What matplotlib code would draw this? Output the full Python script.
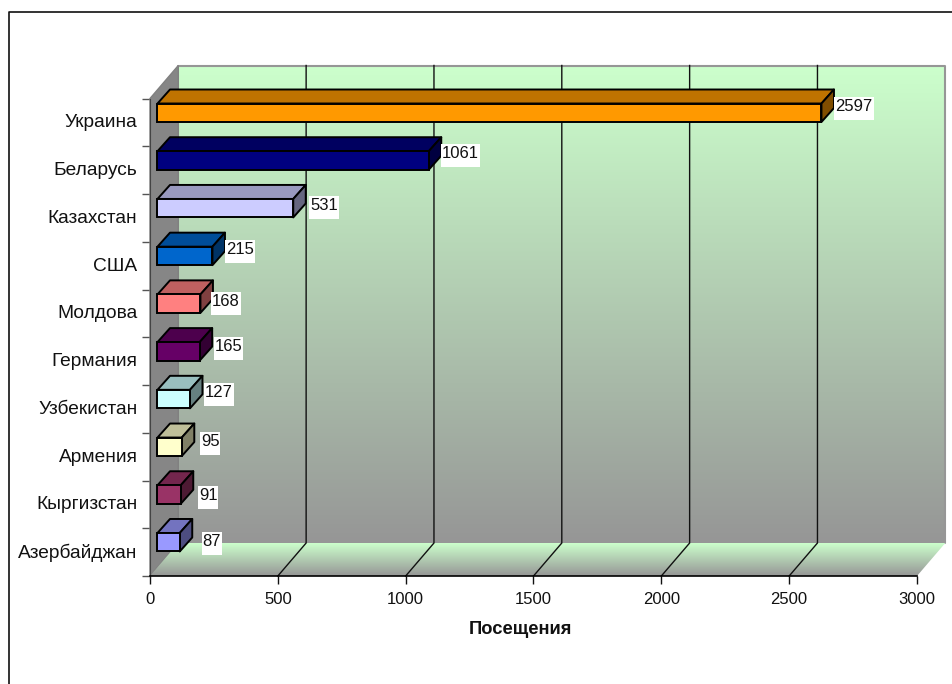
import matplotlib
matplotlib.use('Agg')
import matplotlib.pyplot as plt
import numpy as np
from matplotlib.colors import LinearSegmentedColormap, to_rgb
from matplotlib.lines import Line2D
from matplotlib.patches import Polygon, Rectangle
from matplotlib.transforms import IdentityTransform, ScaledTranslation

countries = ['Украина', 'Беларусь', 'Казахстан', 'США', 'Молдова',
             'Германия', 'Узбекистан', 'Армения', 'Кыргизстан', 'Азербайджан']
visits = [2597, 1061, 531, 215, 168, 165, 127, 95, 91, 87]
bar_colors = ['#FF9900', '#000080', '#CCCCFF', '#0066CC', '#FF8080',
              '#660066', '#CCFFFF', '#FFFFCC', '#993366', '#9999FF']
x_ticks = [0, 500, 1000, 1500, 2000, 2500, 3000]

# label nudges from the bar end, in pixels
label_dx = [14, 13, 17, 13.5, 11.5, 15, 15, 19, 18, 23]
label_dy = [6, 7, 3, 6, 2, 4.5, 7, 5, -1, 1]

W, H = 953, 684
plt.rcParams['font.family'] = ['Liberation Sans', 'DejaVu Sans']
fig = plt.figure(figsize=(W / 100, H / 100), dpi=100)

# front plane of the 3D box, pixel edges converted to figure fractions
left, right, top, bottom = 150, 917, 98.5, 576
ax = fig.add_axes([left / W, 1 - bottom / H, (right - left) / W, (bottom - top) / H])
ax.set_xlim(0, 3000)
ax.set_ylim(10, 0)

px_x = 3000 / (right - left)
px_y = 10 / (bottom - top)
depth_x = 28.3 * px_x
depth_y = 33 * px_y
back_x0, back_x1 = depth_x, 3000 + depth_x
back_y0, back_y1 = -depth_y, 10 - depth_y

green_gray = LinearSegmentedColormap.from_list('wall', ['#CCFFCC', '#969696'])
grad = np.linspace(0, 1, 256).reshape(-1, 1)

# back wall
ax.imshow(grad, cmap=green_gray, aspect='auto', extent=(back_x0, back_x1, back_y1, back_y0),
          zorder=1, clip_on=False)
ax.plot([back_x0, back_x0, back_x1, back_x1, back_x0], [back_y1, back_y0, back_y0, back_y1, back_y1],
        color='#969696', lw=1.5, zorder=1.5, clip_on=False)

# floor
floor = Polygon([(0, 10), (3000, 10), (back_x1, back_y1), (back_x0, back_y1)], closed=True,
                fc='none', ec='none', clip_on=False)
ax.add_patch(floor)
floor_img = ax.imshow(grad, cmap=green_gray, aspect='auto', extent=(0, back_x1, 10, back_y1),
                      zorder=1.7)
floor_img.set_clip_box(fig.bbox)
floor_img.set_clip_path(floor)
ax.set_xlim(0, 3000)
ax.set_ylim(10, 0)

# left wall
ax.add_patch(Polygon([(0, 0), (back_x0, back_y0), (back_x0, back_y1), (0, 10)], closed=True,
                     fc='#868686', ec='#808080', lw=1, zorder=1.6, clip_on=False))

# gridlines over the wall and floor
for t in x_ticks[1:-1]:
    ax.plot([t + depth_x, t + depth_x, t], [back_y0, back_y1, 10], color='#111111', lw=1,
            zorder=2, clip_on=False)

# bars: front face plus top and side faces
bar_start = 7.5 * px_x
bar_h = 18.5 * px_y
bar_top = 5 * px_y
step = 47.72 * px_y
bar_dx = 12.5 * px_x
bar_dy = 14 * px_y
edge = dict(ec='#000000', lw=1.4, joinstyle='round', clip_on=False)

value_labels = []
for i, (name, val, col) in enumerate(zip(countries, visits, bar_colors)):
    y0 = bar_top + i * step
    y1 = y0 + bar_h
    x0 = bar_start
    x1 = bar_start + val
    rgb = np.array(to_rgb(col))
    z = 3 + i * 0.1
    ax.add_patch(Polygon([(x0, y0), (x1, y0), (x1 + bar_dx, y0 - bar_dy), (x0 + bar_dx, y0 - bar_dy)],
                         closed=True, fc=rgb * 0.75, zorder=z, **edge))
    ax.add_patch(Polygon([(x1, y0), (x1 + bar_dx, y0 - bar_dy), (x1 + bar_dx, y1 - bar_dy), (x1, y1)],
                         closed=True, fc=rgb * 0.5, zorder=z, **edge))
    ax.barh(y0 + bar_h / 2, val, height=bar_h, left=x0, color=col, zorder=z, clip_on=False,
            edgecolor='#000000', linewidth=1.4)
    t = ax.annotate(str(val), xy=(x1, y0 + bar_h / 2), xytext=(label_dx[i] * 0.72, label_dy[i] * 0.72),
                    textcoords='offset points', fontsize=12, color='#111111', ha='left', va='center',
                    zorder=6, annotation_clip=False)
    value_labels.append(t)

# axes
for side in ['top', 'right']:
    ax.spines[side].set_visible(False)
ax.spines['left'].set_color('#444444')
ax.spines['bottom'].set_color('#000000')
ax.spines['bottom'].set_linewidth(1.2)
ax.spines['bottom'].set_zorder(2.5)
ax.patch.set_visible(False)

ax.set_xticks(x_ticks)
ax.set_xticklabels([str(t) for t in x_ticks], fontsize=12, color='#111111')
ax.tick_params(axis='x', length=6, width=1, color='#111111', pad=5.5)
ax.set_yticks(np.arange(0, 11))
ax.set_yticklabels([])
ax.tick_params(axis='y', which='major', length=6, width=1, color='#555555')
ax.set_yticks(np.arange(10) + 0.5, labels=countries, minor=True)
ax.tick_params(axis='y', which='minor', length=0, pad=9, labelsize=13.8, labelcolor='#111111')
for lab in ax.get_yticklabels(minor=True):
    lab.set_transform(lab.get_transform() + ScaledTranslation(0, 1.5 / 100, fig.dpi_scale_trans))
ax.set_xlabel('Посещения', fontsize=13.2, fontweight='bold', color='#111111')
ax.xaxis.set_label_coords((520 - left) / (right - left), (bottom - 621) / (bottom - top))

# outer chart frame, open on the right and at the bottom
fig.add_artist(Line2D([9 / W, 9 / W, 1], [0, 1 - 11.5 / H, 1 - 11.5 / H], color='#111111', lw=1.2))

# white plates behind the value labels, taller than the digits
fig.canvas.draw()
renderer = fig.canvas.get_renderer()
for t in value_labels:
    bb = t.get_window_extent(renderer)
    cy = (bb.y0 + bb.y1) / 2 - 2
    ax.add_patch(Rectangle((bb.x0 - 1, cy - 11.5), bb.width + 2, 23, transform=IdentityTransform(),
                           fc='white', ec='none', zorder=5, clip_on=False))

fig.savefig('out.png', dpi=100)
